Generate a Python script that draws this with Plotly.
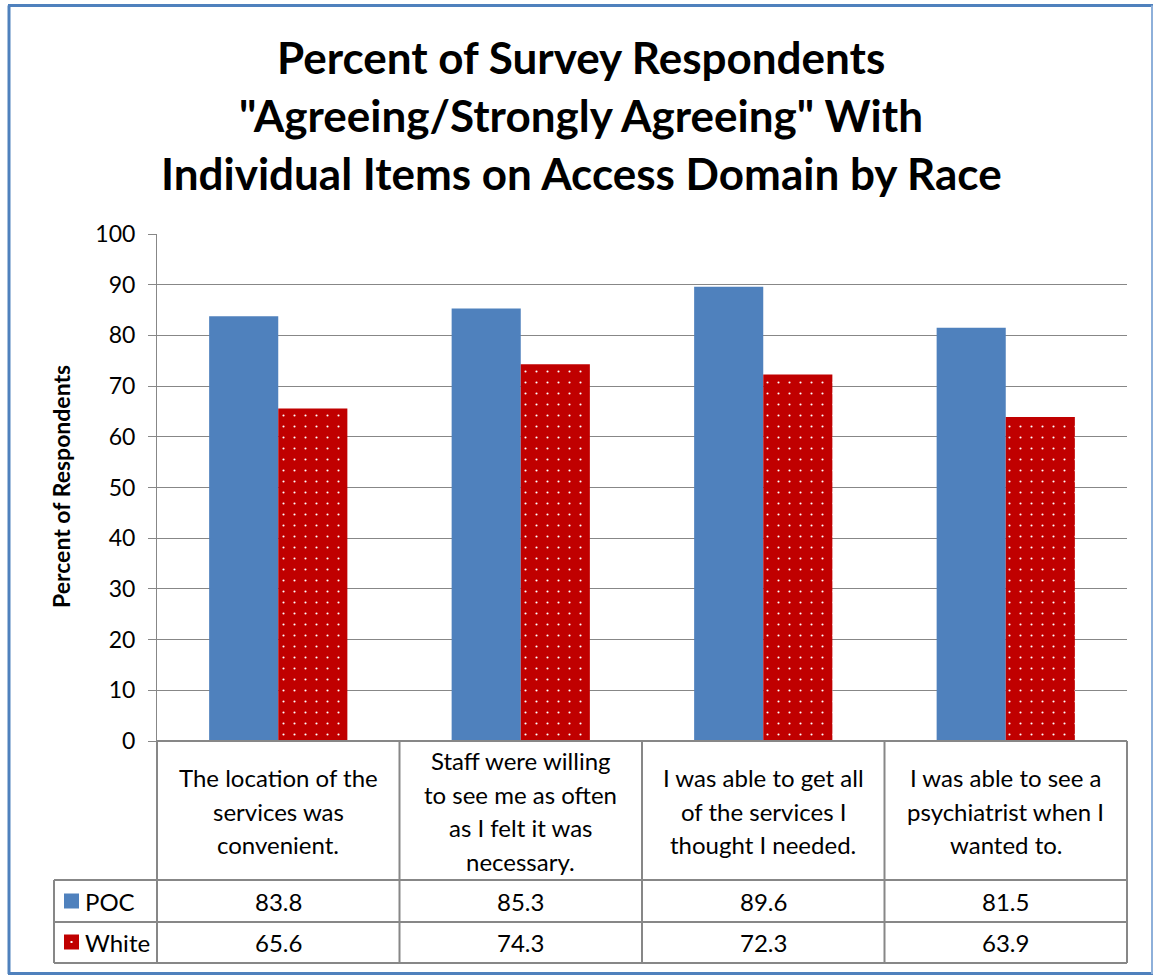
import plotly.graph_objects as go

# Survey items (category axis) and agreement percentages by race
categories = [
    "The location of the<br>services was<br>convenient.",
    "Staff were willing<br>to see me as often<br>as I felt it was<br>necessary.",
    "I was able to get all<br>of the services I<br>thought I needed.",
    "I was able to see a<br>psychiatrist when I<br>wanted to.",
]
poc_values = [83.8, 85.3, 89.6, 81.5]
white_values = [65.6, 74.3, 72.3, 63.9]
series_names = ["POC", "White"]
y_ticks = [0, 10, 20, 30, 40, 50, 60, 70, 80, 90, 100]
title_lines = [
    "Percent of Survey Respondents",
    "\"Agreeing/Strongly Agreeing\" With",
    "Individual Items on Access Domain by Race",
]

W, H = 1153, 976
L, R, T, B = 157, 1127, 234, 741  # plot area in pixels
BLUE = "#4F81BD"
RED = "#C00000"
GRID = "#878787"
FONT = "Lato"
TXT = 24


def px(x):
    return (x - L) / (R - L)


def py(y):
    return (B - y) / (B - T)


fig = go.Figure()
fig.add_trace(go.Bar(
    x=categories, y=poc_values, name=series_names[0],
    marker=dict(color=BLUE, line=dict(width=0)),
))
fig.add_trace(go.Bar(
    x=categories, y=white_values, name=series_names[1],
    marker=dict(color=RED, line=dict(width=0),
                pattern=dict(shape=".", fgcolor="white", bgcolor=RED,
                             size=11, solidity=0.03, fillmode="replace")),
))

shapes = []
annotations = []

# outer blue frame
frame = dict(type="line", xref="paper", yref="paper",
             line=dict(color=BLUE, width=3), layer="above")
shapes.append({**frame, "x0": px(9), "x1": px(9), "y0": py(5.5), "y1": py(974)})
shapes.append({**frame, "x0": px(8), "x1": px(1153), "y0": py(5.5), "y1": py(5.5)})
shapes.append({**frame, "x0": px(8), "x1": px(1153), "y0": py(973.5), "y1": py(973.5)})
shapes.append({**frame, "x0": px(1152), "x1": px(1152), "y0": py(5.5), "y1": py(974),
               "line": dict(color="#8EB0DA", width=2)})

# data table grid
tline = dict(type="line", xref="paper", yref="paper",
             line=dict(color=GRID, width=2), layer="above")
col_edges = [L + i * (R - L) / len(categories) for i in range(len(categories) + 1)]
for xe in col_edges:
    shapes.append({**tline, "x0": px(xe), "x1": px(xe), "y0": py(741), "y1": py(963)})
shapes.append({**tline, "x0": px(54), "x1": px(54), "y0": py(880), "y1": py(963)})
for ye in (880, 922, 963):
    shapes.append({**tline, "x0": px(54), "x1": px(R), "y0": py(ye), "y1": py(ye)})
shapes.append({**tline, "x0": 0, "x1": 1, "y0": 0, "y1": 0})

# category labels inside the table header cells
line_gap = 33.5
for cat in categories:
    lines = cat.split("<br>")
    n = len(lines)
    for k, txt in enumerate(lines):
        yc = 811 + (k - (n - 1) / 2) * line_gap
        annotations.append(dict(
            x=cat, xref="x", y=py(yc), yref="paper", text=txt, showarrow=False,
            xanchor="center", yanchor="middle",
            font=dict(family=FONT, size=TXT, color="black")))

# value rows and legend keys
rows = [(poc_values, 901, BLUE), (white_values, 942, RED)]
for (vals, yc, col), name in zip(rows, series_names):
    for cat, v in zip(categories, vals):
        annotations.append(dict(
            x=cat, xref="x", y=py(yc), yref="paper", text=f"{v:.1f}",
            showarrow=False, xanchor="center", yanchor="middle",
            font=dict(family=FONT, size=TXT, color="black")))
    shapes.append(dict(type="rect", xref="paper", yref="paper",
                       x0=px(64), x1=px(79), y0=py(yc + 7.5), y1=py(yc - 7.5),
                       fillcolor=col, line=dict(width=0), layer="above"))
    annotations.append(dict(
        x=px(83), xref="paper", y=py(yc), yref="paper", text=name,
        showarrow=False, xanchor="left", yanchor="middle",
        font=dict(family=FONT, size=TXT, color="black")))
# white dot in the White legend key
shapes.append(dict(type="rect", xref="paper", yref="paper",
                   x0=px(70.5), x1=px(72.5), y0=py(943), y1=py(941),
                   fillcolor="white", line=dict(width=0), layer="above"))

# title lines
for k, txt in enumerate(title_lines):
    annotations.append(dict(
        x=px(581), xref="paper", y=py(57 + 58 * k), yref="paper", text=f"<b>{txt}</b>",
        showarrow=False, xanchor="center", yanchor="middle",
        font=dict(family=FONT, size=44, color="black")))

# y-axis title
annotations.append(dict(
    x=px(61), xref="paper", y=py(487), yref="paper", text="<b>Percent of Respondents</b>",
    showarrow=False, textangle=-90, xanchor="center", yanchor="middle",
    font=dict(family=FONT, size=23, color="black")))

fig.update_layout(
    width=W, height=H,
    margin=dict(l=L, r=W - R, t=T, b=H - B, pad=0),
    paper_bgcolor="white", plot_bgcolor="white",
    showlegend=False,
    barmode="group", bargap=0.43, bargroupgap=0,
    shapes=shapes, annotations=annotations,
    xaxis=dict(showticklabels=False, showgrid=False, zeroline=False,
               showline=False, ticks=""),
    yaxis=dict(range=[0, 100], tickvals=y_ticks, showgrid=True, gridcolor=GRID,
               gridwidth=1, zeroline=False, showline=True, linecolor=GRID,
               linewidth=1, ticks="outside", ticklen=8, tickcolor=GRID,
               tickfont=dict(family=FONT, size=23, color="black"),
               ticklabelstandoff=8),
)

fig.write_html("out.html")
